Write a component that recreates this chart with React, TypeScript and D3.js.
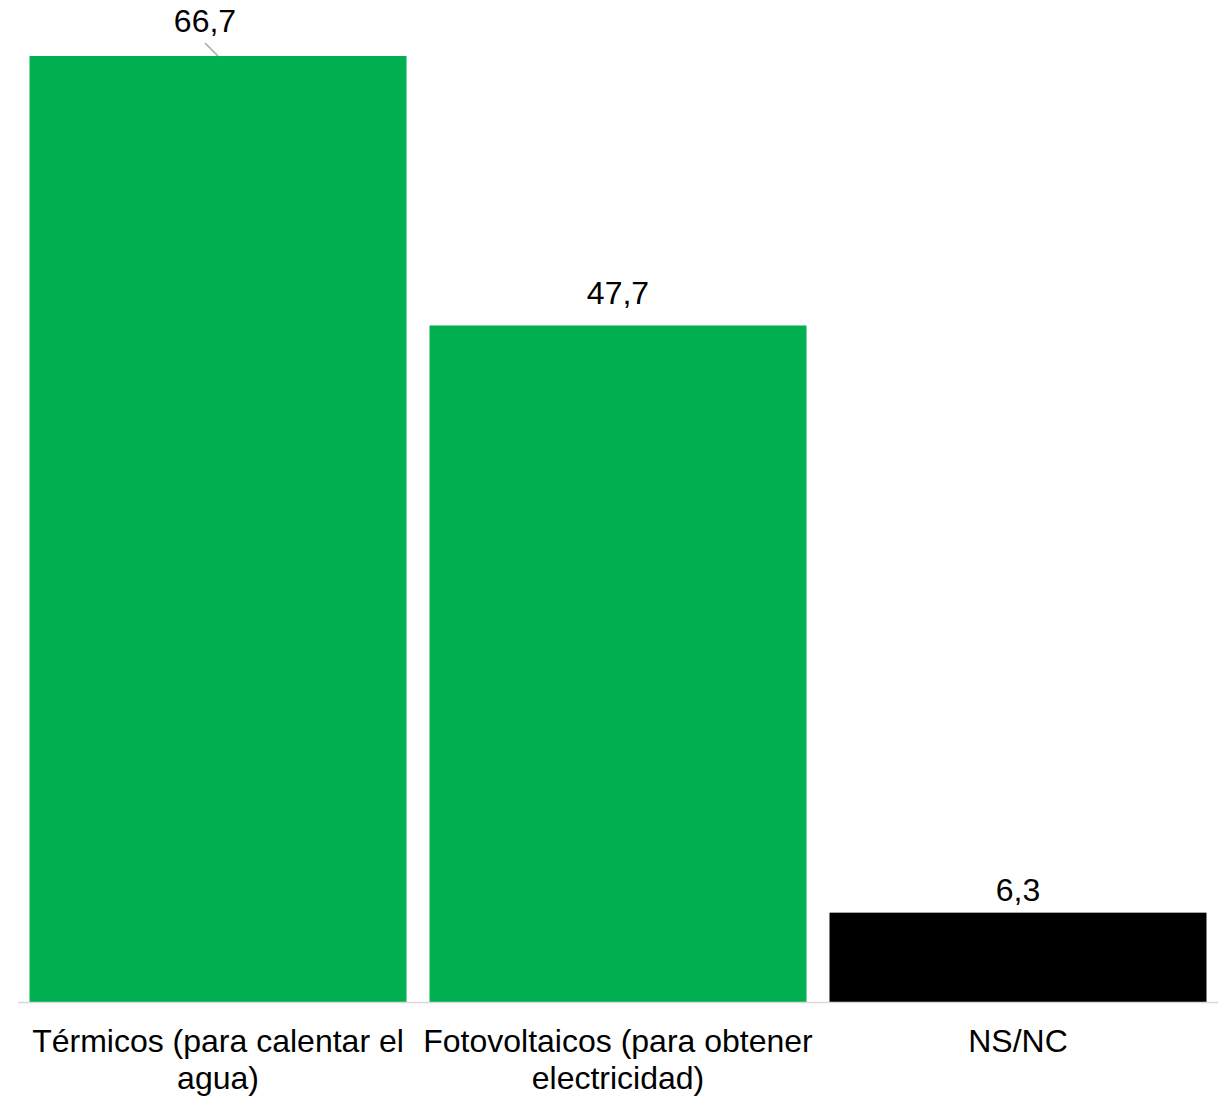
import React from "react";
import * as d3 from "d3";

const categories = ["Térmicos (para calentar el agua)", "Fotovoltaicos (para obtener electricidad)", "NS/NC"];
const labelLines = [["Térmicos (para calentar el", "agua)"], ["Fotovoltaicos (para obtener", "electricidad)"], ["NS/NC"]];
const values = [66.7, 47.7, 6.3];
const valueLabels = ["66,7", "47,7", "6,3"];
const barColors = ["#00B050", "#00B050", "#000000"];

const W = 1227;
const H = 1098;
const baseY = 1002;
const topY = 56;
const FONT = "'Liberation Sans', Arial, sans-serif";
// label placement tweaks (dx, gap above bar)
const labelDx = [-13, 0, 0];
const labelGap = [24, 21, 12];

export default function App() {
  const x = d3.scaleBand<string>().domain(categories).range([18, 1218]).paddingInner(0.0575).paddingOuter(0.02875);
  const y = d3.scaleLinear().domain([0, values[0]]).range([baseY, topY]);
  return (
    <svg width={W} height={H} style={{ position: "absolute", left: 0, top: 0, background: "#fff" }}>
      {categories.map((c, i) => {
        const bx = x(c)!;
        const bw = x.bandwidth();
        const cx = bx + bw / 2;
        const ty = y(values[i]);
        const lx = cx + labelDx[i];
        const ly = ty - labelGap[i];
        return (
          <g key={c}>
            <rect x={bx} y={ty} width={bw} height={baseY - ty} fill={barColors[i]} />
            {labelDx[i] !== 0 && (
              <line x1={lx} y1={ly + 11} x2={cx} y2={ty} stroke="#a6a6a6" strokeWidth={1.5} />
            )}
            <text x={lx} y={ly} textAnchor="middle" fontFamily={FONT} fontSize={32} fill="#000">
              {valueLabels[i]}
            </text>
            {labelLines[i].map((t, j) => (
              <text key={j} x={cx} y={1052 + j * 37} textAnchor="middle" fontFamily={FONT} fontSize={32} fill="#000">
                {t}
              </text>
            ))}
          </g>
        );
      })}
      <line x1={18} x2={1218} y1={baseY + 0.5} y2={baseY + 0.5} stroke="#d9d9d9" strokeWidth={1.5} />
    </svg>
  );
}
